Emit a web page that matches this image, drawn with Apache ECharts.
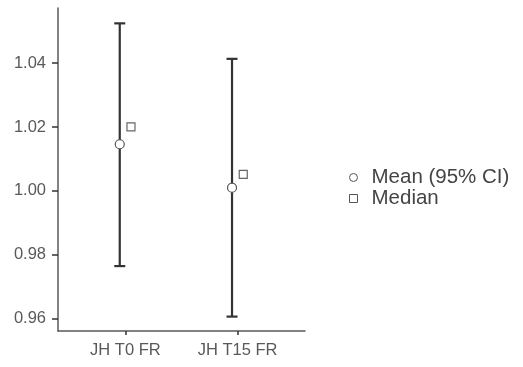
<!DOCTYPE html>
<html><head><meta charset="utf-8">
<script src="https://cdn.jsdelivr.net/npm/echarts@6/dist/echarts.min.js"></script>
<style>html,body{margin:0;padding:0;background:#fff}#c{width:523px;height:367px}</style>
</head><body><div id="c"></div>
<script>
const categories = ['JH T0 FR', 'JH T15 FR'];
const means = [1.0146, 1.0010];
const ciLower = [0.9765, 0.9607];
const ciUpper = [1.0524, 1.0413];
const medians = [1.0200, 1.0052];
const yTicks = [0.96, 0.98, 1.00, 1.02, 1.04];

const DODGE = 0.05;
const meanData = categories.map((c, i) => [i + 1 - DODGE, means[i]]);
const medianData = categories.map((c, i) => [i + 1 + DODGE, medians[i]]);
const ciData = categories.map((c, i) => [i + 1 - DODGE, ciLower[i], ciUpper[i]]);

const font = 'Liberation Sans, Arial, sans-serif';
const chart = echarts.init(document.getElementById('c'));
chart.setOption({
  animation: false,
  backgroundColor: '#fff',
  grid: { left: 58, right: 218, top: 8, bottom: 36 },
  xAxis: {
    type: 'value', min: 0.4, max: 2.6, interval: 1,
    splitLine: { show: false },
    axisLine: { show: true, onZero: false, lineStyle: { color: '#5a5a5a', width: 1.5 } },
    axisTick: { show: true, length: 4, lineStyle: { color: '#333', width: 1.5 }, customValues: [1, 2] },
    axisLabel: {
      customValues: [1, 2],
      formatter: v => categories[Math.round(v) - 1] || '',
      color: '#595959', fontSize: 16.5, fontFamily: font, margin: 11
    }
  },
  yAxis: {
    type: 'value', min: 0.9562, max: 1.0572,
    splitLine: { show: false },
    axisLine: { show: true, onZero: false, lineStyle: { color: '#5a5a5a', width: 1.5 } },
    axisTick: { show: true, length: 6, lineStyle: { color: '#333', width: 1.5 }, customValues: yTicks },
    axisLabel: {
      customValues: yTicks,
      formatter: v => v.toFixed(2),
      color: '#595959', fontSize: 16.5, fontFamily: font, margin: 12
    }
  },
  legend: {
    orient: 'vertical', left: 344, top: 162,
    itemWidth: 8, itemHeight: 8, itemGap: 0,
    textStyle: { color: '#444', fontSize: 20.5, fontFamily: font, lineHeight: 19, padding: [0, 0, 0, 9] },
    data: [
      { name: 'Mean (95% CI)', icon: 'circle', itemStyle: { color: '#fff', borderColor: '#555', borderWidth: 1 } },
      { name: 'Median', icon: 'rect', itemStyle: { color: '#fff', borderColor: '#555', borderWidth: 1 } }
    ]
  },
  series: [
    {
      type: 'custom', name: 'ci', silent: true, z: 2,
      data: ciData,
      renderItem: (params, api) => {
        const x = api.value(0);
        const lo = api.coord([x, api.value(1)]);
        const hi = api.coord([x, api.value(2)]);
        const half = 5.5;
        const style = { stroke: '#333', lineWidth: 2.2 };
        return {
          type: 'group', children: [
            { type: 'line', shape: { x1: lo[0], y1: lo[1], x2: hi[0], y2: hi[1] }, style },
            { type: 'line', shape: { x1: lo[0] - half, y1: lo[1], x2: lo[0] + half, y2: lo[1] }, style },
            { type: 'line', shape: { x1: hi[0] - half, y1: hi[1], x2: hi[0] + half, y2: hi[1] }, style }
          ]
        };
      }
    },
    {
      type: 'scatter', name: 'Mean (95% CI)', data: meanData, symbol: 'circle', symbolSize: 9, z: 3,
      itemStyle: { color: '#fff', borderColor: '#555', borderWidth: 1.2, opacity: 1 }
    },
    {
      type: 'scatter', name: 'Median', data: medianData, symbol: 'rect', symbolSize: 8, z: 3,
      itemStyle: { color: '#fff', borderColor: '#666', borderWidth: 1.2, opacity: 1 }
    }
  ]
});
</script></body></html>
